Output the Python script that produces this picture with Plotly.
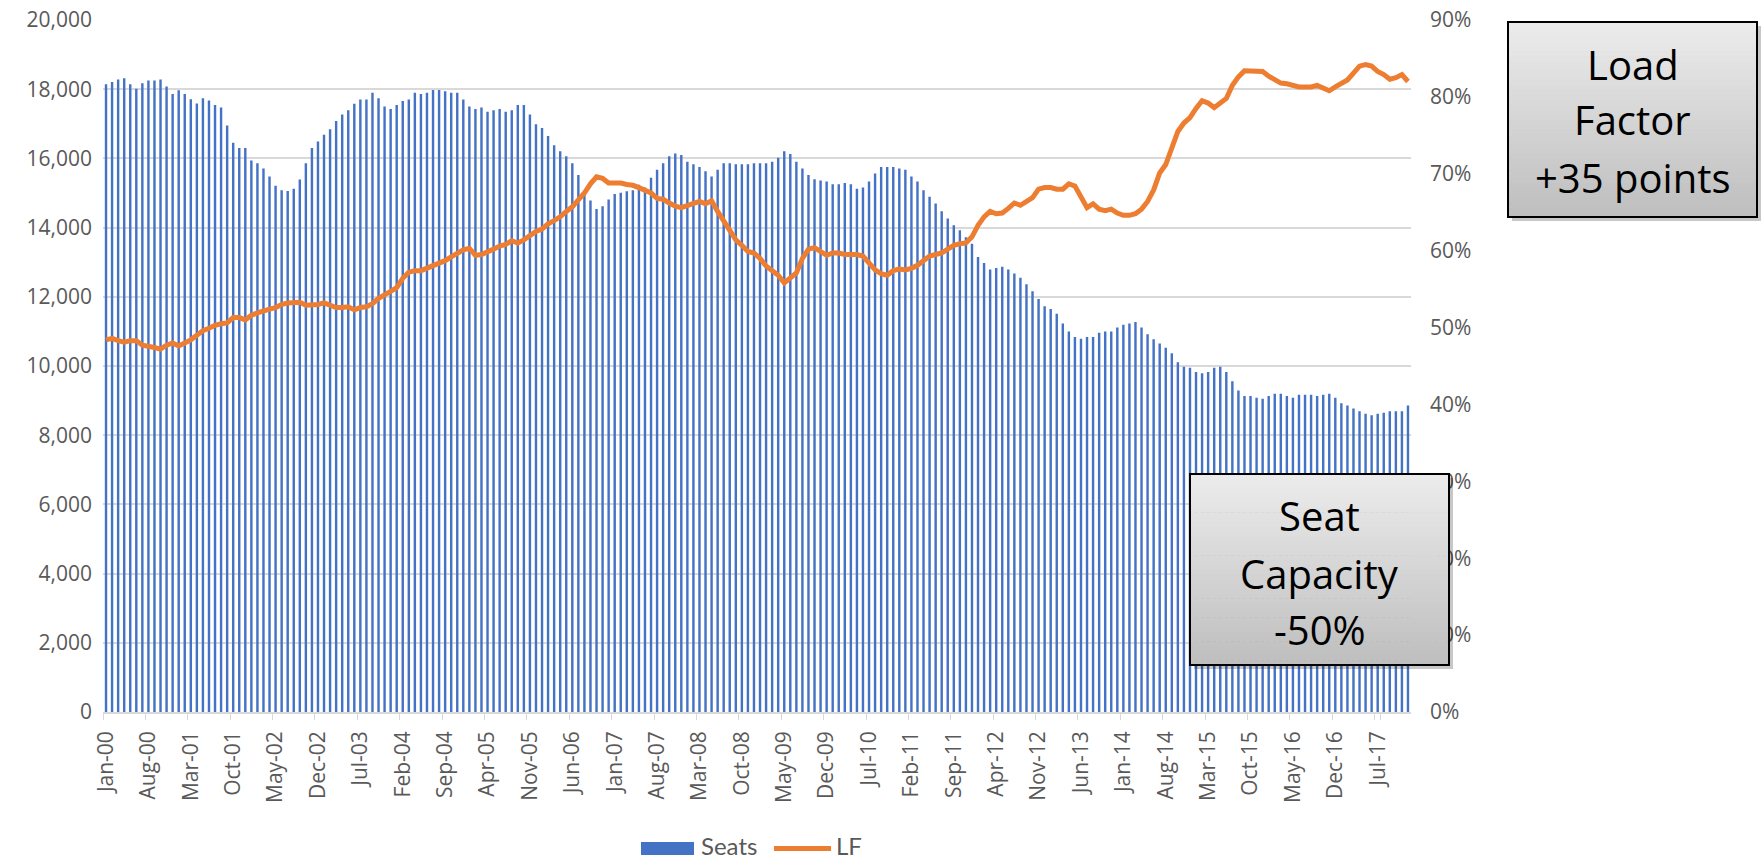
import plotly.graph_objects as go

# ---------------- data ----------------
months = ["Jan", "Feb", "Mar", "Apr", "May", "Jun", "Jul", "Aug", "Sep", "Oct", "Nov", "Dec"]
years = ["%02d" % y for y in range(0, 18)]
categories = [f"{m}-{y}" for y in years for m in months]  # Jan-00 .. Dec-17

seats = [
    18140, 18210, 18280, 18320, 18140, 18010, 18170, 18250, 18250, 18280, 18080, 17860,
    17970, 17860, 17710, 17590, 17740, 17670, 17540, 17470, 16950, 16450, 16300, 16300,
    15940, 15860, 15710, 15480, 15210, 15080, 15060, 15120, 15390, 15860, 16300, 16490,
    16680, 16840, 17080, 17270, 17390, 17580, 17700, 17700, 17900, 17740, 17500, 17430,
    17540, 17660, 17700, 17900, 17860, 17900, 17980, 17980, 17940, 17900, 17900, 17700,
    17500, 17430, 17470, 17350, 17390, 17430, 17350, 17390, 17540, 17540, 17270, 16990,
    16880, 16650, 16380, 16210, 16060, 15860, 15520, 14940, 14780, 14540, 14620, 14810,
    14970, 15010, 15050, 15080, 15240, 15160, 15440, 15670, 15860, 16060, 16140, 16100,
    15900, 15830, 15750, 15630, 15480, 15670, 15860, 15860, 15830, 15830, 15830, 15860,
    15860, 15860, 15900, 16020, 16210, 16130, 15900, 15710, 15520, 15400, 15360, 15330,
    15250, 15250, 15290, 15250, 15120, 15160, 15330, 15560, 15750, 15750, 15750, 15710,
    15670, 15480, 15330, 15080, 14890, 14700, 14470, 14260, 14070, 13920, 13720, 13530,
    13150, 12980, 12790, 12830, 12870, 12790, 12670, 12550, 12360, 12160, 11940, 11730,
    11650, 11510, 11230, 11000, 10840, 10790, 10840, 10840, 10960, 11000, 11000, 11110,
    11190, 11230, 11270, 11110, 10920, 10770, 10650, 10530, 10370, 10110, 9980, 9950,
    9830, 9790, 9830, 9950, 9980, 9830, 9560, 9290, 9130, 9130, 9080, 9050,
    9130, 9200, 9200, 9130, 9080, 9170, 9170, 9170, 9130, 9170, 9200, 9080,
    8920, 8860, 8770, 8690, 8620, 8580, 8620, 8650, 8690, 8690, 8690, 8860,
]

lf_pct = [
    48.4, 48.6, 48.3, 48.1, 48.3, 48.3, 47.7, 47.6, 47.4, 47.2, 47.7, 48.0,
    47.6, 48.0, 48.4, 49.0, 49.6, 49.9, 50.3, 50.5, 50.6, 51.3, 51.3, 51.0,
    51.6, 51.9, 52.2, 52.4, 52.6, 53.0, 53.2, 53.2, 53.3, 52.9, 52.9, 53.0,
    53.2, 52.9, 52.6, 52.6, 52.7, 52.3, 52.6, 52.7, 53.1, 53.8, 54.2, 54.7,
    55.2, 56.4, 57.2, 57.4, 57.4, 57.7, 58.0, 58.4, 58.7, 59.2, 59.7, 60.1,
    60.3, 59.4, 59.5, 59.8, 60.2, 60.6, 60.8, 61.3, 61.0, 61.4, 62.0, 62.5,
    62.8, 63.5, 63.9, 64.4, 65.1, 65.7, 66.6, 67.5, 68.7, 69.6, 69.4, 68.8,
    68.8, 68.8, 68.6, 68.5, 68.2, 67.8, 67.5, 66.8, 66.7, 66.2, 65.8, 65.6,
    65.9, 66.2, 66.4, 66.1, 66.5, 65.1, 63.9, 62.7, 61.4, 60.7, 59.9, 59.7,
    59.0, 58.0, 57.3, 56.8, 55.8, 56.4, 57.1, 59.0, 60.2, 60.4, 59.9, 59.4,
    59.7, 59.7, 59.5, 59.5, 59.5, 59.3, 58.4, 57.5, 57.0, 56.8, 57.4, 57.6,
    57.5, 57.7, 58.1, 58.7, 59.3, 59.5, 59.7, 60.2, 60.7, 60.9, 61.0, 61.8,
    63.3, 64.4, 65.1, 64.8, 64.9, 65.5, 66.2, 65.9, 66.5, 66.9, 68.0, 68.2,
    68.2, 68.0, 68.0, 68.7, 68.4, 66.9, 65.6, 66.1, 65.4, 65.2, 65.4, 64.9,
    64.6, 64.6, 64.8, 65.4, 66.4, 67.9, 70.1, 71.2, 73.5, 75.5, 76.6, 77.3,
    78.5, 79.5, 79.2, 78.6, 79.2, 79.8, 81.5, 82.6, 83.4, 83.4, 83.4, 83.3,
    82.7, 82.2, 81.8, 81.7, 81.5, 81.3, 81.3, 81.3, 81.5, 81.2, 80.8, 81.3,
    81.7, 82.2, 83.1, 84.0, 84.2, 84.0, 83.3, 82.9, 82.3, 82.5, 82.9, 82.0,
]

tick_labels = categories[::7]
load_box_lines = ["Load", "Factor", "+35 points"]
seat_box_lines = ["Seat", "Capacity", "-50%"]
series_names = ["Seats", "LF"]

# ---------------- layout geometry (pixels) ----------------
W, H = 1761, 859
L, R, T, B = 103, 1411, 20, 712


def px(x):
    return (x - L) / (R - L)


def py(y):
    return (B - y) / (B - T)


GRAY = "#595959"
FONT = "Open Sans"
BLUE = "#4472C4"
ORANGE = "#ED7D31"

fig = go.Figure()
fig.add_trace(go.Bar(x=categories, y=seats, name=series_names[0], marker_color=BLUE,
                     marker_line_width=0, yaxis="y", showlegend=False))
fig.add_trace(go.Scatter(x=categories, y=lf_pct, name=series_names[1], mode="lines",
                         line=dict(color=ORANGE, width=5), yaxis="y2", showlegend=False))

shapes = []
annotations = []


def add_box(x0, y0, x1, y1, lines, line_ys):
    # shadow
    shapes.append(dict(type="rect", xref="paper", yref="paper",
                       x0=px(x0 + 4), x1=px(x1 + 4), y0=py(y1 + 4), y1=py(y0 + 4),
                       fillcolor="rgba(0,0,0,0.22)", line=dict(width=0), layer="above"))
    n = 40
    top = (236, 236, 236)
    bot = (190, 190, 190)
    for k in range(n):
        t = (k + 0.5) / n
        c = tuple(int(round(top[j] + (bot[j] - top[j]) * t)) for j in range(3))
        ya = y0 + (y1 - y0) * k / n
        yb = y0 + (y1 - y0) * (k + 1) / n + 0.6
        shapes.append(dict(type="rect", xref="paper", yref="paper",
                           x0=px(x0), x1=px(x1), y0=py(min(yb, y1)), y1=py(ya),
                           fillcolor="rgb(%d,%d,%d)" % c, line=dict(width=0), layer="above"))
    shapes.append(dict(type="rect", xref="paper", yref="paper",
                       x0=px(x0), x1=px(x1), y0=py(y1), y1=py(y0),
                       fillcolor="rgba(0,0,0,0)", line=dict(color="black", width=2), layer="above"))
    cx = (x0 + x1) / 2
    for txt, ly in zip(lines, line_ys):
        annotations.append(dict(xref="paper", yref="paper", x=px(cx), y=py(ly),
                                text=txt, showarrow=False, xanchor="center", yanchor="middle",
                                font=dict(family=FONT, size=40, color="black")))


add_box(1508, 22, 1757, 217, load_box_lines, [64, 120, 177])
add_box(1190, 474, 1449, 665, seat_box_lines, [515, 573, 629])

# ---- legend (drawn as swatches + labels, matching the wide Excel swatches) ----
LEG_Y = 845
shapes.append(dict(type="rect", xref="paper", yref="paper",
                   x0=px(641), x1=px(694), y0=py(855), y1=py(842),
                   fillcolor=BLUE, line=dict(width=0)))
annotations.append(dict(xref="paper", yref="paper", x=px(700), y=py(LEG_Y), text=series_names[0],
                        showarrow=False, xanchor="left", yanchor="middle", borderpad=0,
                        font=dict(family="Lato", size=24, color=GRAY)))
shapes.append(dict(type="line", xref="paper", yref="paper",
                   x0=px(774), x1=px(831), y0=py(848.5), y1=py(848.5),
                   line=dict(color=ORANGE, width=5)))
annotations.append(dict(xref="paper", yref="paper", x=px(835), y=py(LEG_Y), text=series_names[1],
                        showarrow=False, xanchor="left", yanchor="middle", borderpad=0,
                        font=dict(family="Lato", size=24, color=GRAY)))

fig.update_layout(
    width=W, height=H,
    margin=dict(l=L, r=W - R, t=T, b=H - B, autoexpand=False),
    paper_bgcolor="white", plot_bgcolor="white",
    bargap=0.6,
    showlegend=False,
    xaxis=dict(type="category", tickmode="array", tickvals=tick_labels, ticktext=tick_labels,
               tickangle=-90, tickfont=dict(family=FONT, size=21, color=GRAY),
               showgrid=False, showline=True, linecolor="#d9d9d9", linewidth=1.5,
               ticks="outside", ticklen=6, tickcolor="#d9d9d9", tickson="boundaries",
               ticklabelstandoff=9,
               range=[-0.5, len(categories) - 0.5], zeroline=False),
    yaxis=dict(range=[0, 20000], dtick=2000, tickformat=",", showgrid=True,
               gridcolor="#d9d9d9", gridwidth=1.5, zeroline=False, showline=False,
               tickfont=dict(family=FONT, size=21, color=GRAY), ticklabelstandoff=10),
    yaxis2=dict(range=[0, 90], dtick=10, ticksuffix="%", overlaying="y", side="right",
                showgrid=False, zeroline=False, showline=False,
                tickfont=dict(family=FONT, size=21, color=GRAY), ticklabelstandoff=18),
    shapes=shapes,
    annotations=annotations,
)

fig.write_html("out.html", config={"displayModeBar": False},
               post_script="document.body.style.margin='0';document.body.style.overflow='hidden';")
